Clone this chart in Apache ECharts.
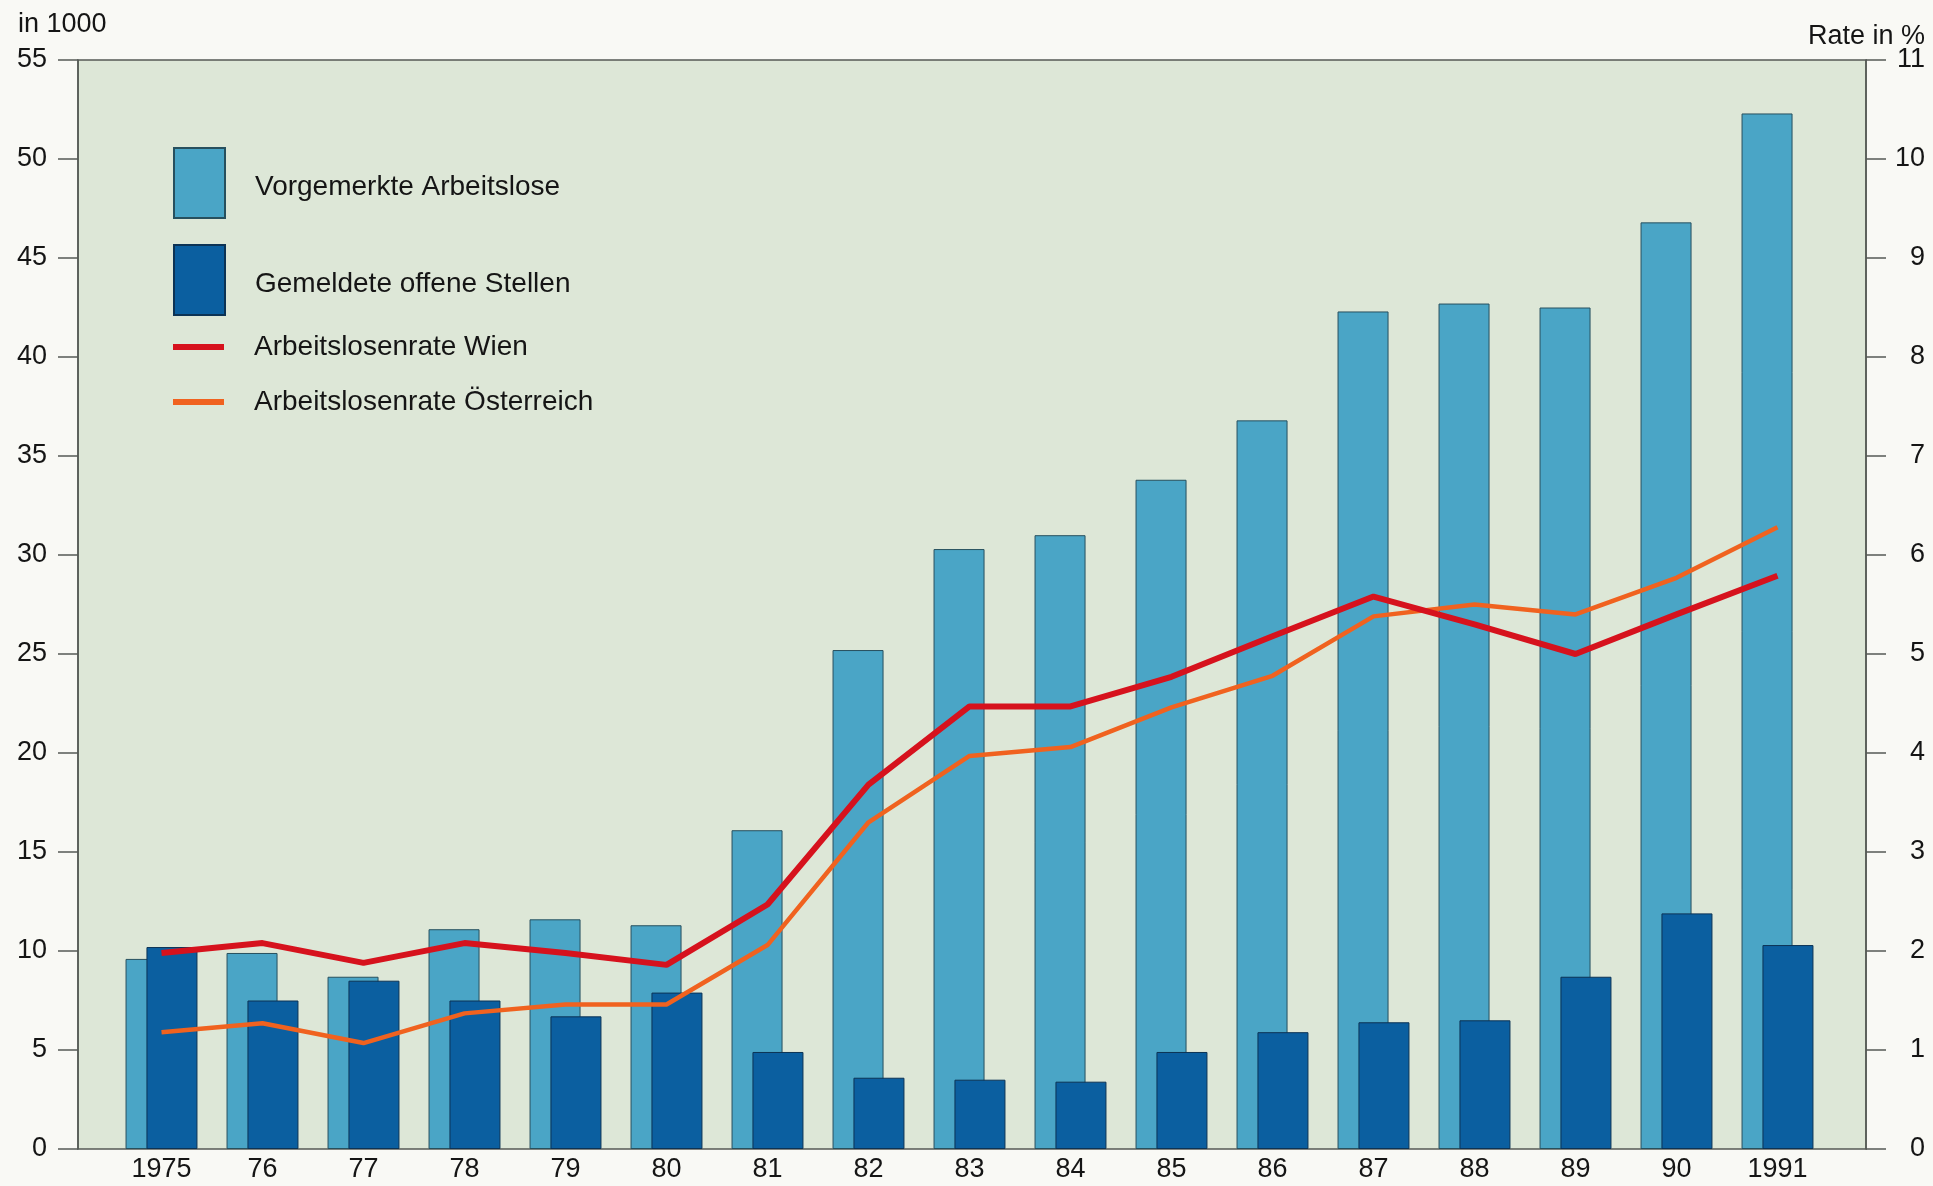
<!DOCTYPE html>
<html>
<head>
<meta charset="utf-8">
<title>Arbeitslose und offene Stellen Wien 1975-1991</title>
<script src="https://cdn.jsdelivr.net/npm/echarts@6/dist/echarts.min.js"></script>
<style>
	html, body { margin: 0; padding: 0; background: #f9f9f5; }
	#chart { width: 1933px; height: 1186px; }
</style>
</head>
<body>
<div id="chart"></div>
<script>
// Jahre (x-Achse)
var years = ['1975', '76', '77', '78', '79', '80', '81', '82', '83', '84', '85', '86', '87', '88', '89', '90', '1991']

// in 1000
var arbeitslose = [9.6, 9.9, 8.7, 11.1, 11.6, 11.3, 16.1, 25.2, 30.3, 31.0, 33.8, 36.8, 42.3, 42.7, 42.5, 46.8, 52.3]
var offeneStellen = [10.2, 7.5, 8.5, 7.5, 6.7, 7.9, 4.9, 3.6, 3.5, 3.4, 4.9, 5.9, 6.4, 6.5, 8.7, 11.9, 10.3]

// Rate in %
var rateWien = [1.98, 2.08, 1.88, 2.08, 1.98, 1.86, 2.47, 3.68, 4.47, 4.47, 4.77, 5.18, 5.58, 5.3, 5.0, 5.4, 5.79]
var rateOesterreich = [1.18, 1.27, 1.07, 1.37, 1.46, 1.46, 2.06, 3.3, 3.97, 4.06, 4.46, 4.78, 5.38, 5.5, 5.4, 5.77, 6.28]

// linke / rechte Achse
var leftMax = 55
var leftStep = 5
var rightMax = 11
var rightStep = 1

var FONT = 'Liberation Sans, Arial, sans-serif'
var TEXT = '#151515'
var AXIS = '#555a55'

function drawChart() {
	var chartDom = document.getElementById('chart')
	var myChart = echarts.init(chartDom)
	var option

	option = {
		backgroundColor: '#f9f9f5',
		animation: false,
		title: [
			{
				text: 'in 1000',
				left: 18,
				top: 11,
				padding: 0,
				textStyle: { fontFamily: FONT, fontSize: 27, fontWeight: 'normal', color: TEXT },
			},
			{
				text: 'Rate in %',
				right: 8,
				top: 23,
				padding: 0,
				textStyle: { fontFamily: FONT, fontSize: 27, fontWeight: 'normal', color: TEXT },
			},
		],
		legend: [
			{
				data: ['Vorgemerkte Arbeitslose', 'Gemeldete offene Stellen'],
				orient: 'vertical',
				left: 173,
				top: 147,
				padding: 0,
				icon: 'rect',
				itemWidth: 51,
				itemHeight: 70,
				itemGap: 25,
				selectedMode: false,
				formatter: '{a|{name}}',
				textStyle: {
					fontFamily: FONT,
					fontSize: 28,
					color: TEXT,
					rich: {
						a: {
							fontFamily: FONT,
							fontSize: 28,
							color: TEXT,
							lineHeight: 30,
							padding: [9, 0, 0, 25],
						},
					},
				},
			},
			{
				data: ['Arbeitslosenrate Wien', 'Arbeitslosenrate Österreich'],
				orient: 'vertical',
				left: 173,
				top: 332,
				padding: 0,
				icon: 'rect',
				itemWidth: 51,
				itemHeight: 6,
				itemGap: 25,
				selectedMode: false,
				textStyle: {
					fontFamily: FONT,
					fontSize: 28,
					color: TEXT,
					lineHeight: 30,
					padding: [0, 0, 0, 25],
				},
			},
		],
		grid: [
			// Rahmen mit Hintergrund
			{
				left: 78,
				top: 60,
				width: 1788,
				height: 1089,
				show: true,
				backgroundColor: '#dde7d7',
				borderColor: AXIS,
				borderWidth: 1.5,
			},
			// Balken und Linien
			{
				left: 111,
				top: 60,
				width: 1717,
				height: 1089,
			},
		],
		xAxis: [
			{
				gridIndex: 0,
				type: 'value',
				min: 0,
				max: 1,
				show: false,
			},
			{
				gridIndex: 1,
				type: 'category',
				data: years,
				boundaryGap: true,
				axisLine: { show: false },
				axisTick: { show: false },
				axisLabel: {
					fontFamily: FONT,
					fontSize: 27,
					color: TEXT,
					margin: 7,
				},
			},
		],
		yAxis: [
			{
				gridIndex: 0,
				type: 'value',
				position: 'left',
				min: 0,
				max: leftMax,
				interval: leftStep,
				axisLine: { show: true, lineStyle: { color: AXIS, width: 1.5 } },
				axisTick: { show: true, length: 20, lineStyle: { color: AXIS, width: 1.5 } },
				axisLabel: { fontFamily: FONT, fontSize: 27, color: TEXT, margin: 31 },
				splitLine: { show: false },
			},
			{
				gridIndex: 0,
				type: 'value',
				position: 'right',
				min: 0,
				max: rightMax,
				interval: rightStep,
				axisLine: { show: true, lineStyle: { color: AXIS, width: 1.5 } },
				axisTick: { show: true, length: 20, lineStyle: { color: AXIS, width: 1.5 } },
				axisLabel: { fontFamily: FONT, fontSize: 27, color: TEXT, margin: 59, align: 'right' },
				splitLine: { show: false },
			},
			{
				gridIndex: 1,
				type: 'value',
				min: 0,
				max: leftMax,
				show: false,
				splitLine: { show: false },
			},
			{
				gridIndex: 1,
				type: 'value',
				min: 0,
				max: rightMax,
				show: false,
				splitLine: { show: false },
			},
		],
		series: [
			{
				name: 'Vorgemerkte Arbeitslose',
				type: 'bar',
				xAxisIndex: 1,
				yAxisIndex: 2,
				data: arbeitslose,
				barWidth: 51,
				barGap: '-59%',
				itemStyle: { color: '#4aa5c6', borderColor: '#27505e', borderWidth: 1 },
				z: 2,
			},
			{
				name: 'Gemeldete offene Stellen',
				type: 'bar',
				xAxisIndex: 1,
				yAxisIndex: 2,
				data: offeneStellen,
				barWidth: 51,
				itemStyle: { color: '#0b5fa0', borderColor: '#0c3355', borderWidth: 1 },
				z: 3,
			},
			{
				name: 'Arbeitslosenrate Wien',
				type: 'line',
				xAxisIndex: 1,
				yAxisIndex: 3,
				data: rateWien,
				symbol: 'none',
				itemStyle: { color: '#d6121d' },
				lineStyle: { color: '#d6121d', width: 6 },
				z: 5,
			},
			{
				name: 'Arbeitslosenrate Österreich',
				type: 'line',
				xAxisIndex: 1,
				yAxisIndex: 3,
				data: rateOesterreich,
				symbol: 'none',
				itemStyle: { color: '#f0621f' },
				lineStyle: { color: '#f0621f', width: 4.5 },
				z: 4,
			},
		],
	}

	option && myChart.setOption(option)
}

drawChart()
</script>
</body>
</html>
